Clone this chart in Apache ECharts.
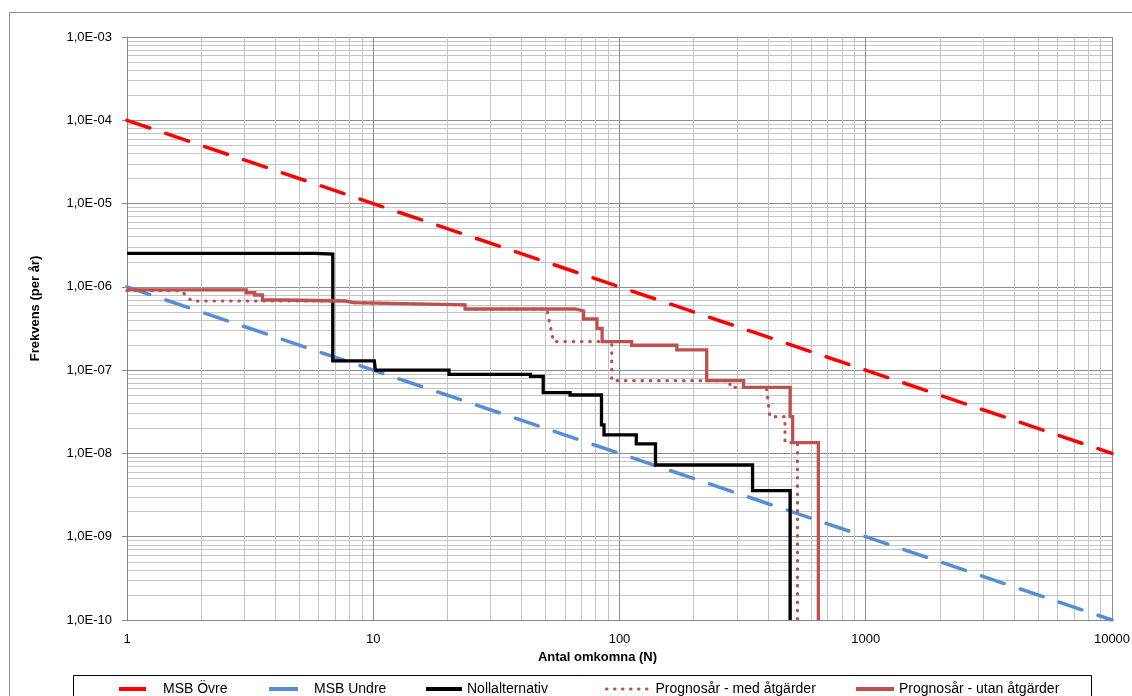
<!DOCTYPE html>
<html>
<head>
    <meta charset="UTF-8">
    <title>F/N-kurva</title>
    <script src="https://cdn.jsdelivr.net/npm/echarts@6/dist/echarts.min.js"></script>
    <style>
        html, body {
            margin: 0;
            padding: 0;
            width: 100%;
            height: 100%;
            background: #fff;
        }
        #chart {
            width: 1132px;
            height: 696px;
        }
    </style>
</head>
<body>
<div id="chart"></div>
<script>
    // MSB riktlinjer (F = C / N)
    var msbXs = [1, 10000];
    var msbOvreYs = [1e-4, 1e-8];
    var msbUndreYs = [1e-6, 1e-10];

    // Nollalternativ (trappstegskurva, avläst)
    var nollXs = [1, 5.8, 5.8, 6.85, 6.85, 10.1, 10.2, 20.3, 20.3, 43.5, 43.5, 49, 49, 63, 63, 84.5, 84.5, 86.5, 86.5, 117, 117, 140, 140, 347, 347, 493, 493];
    var nollYs = [2.53e-6, 2.53e-6, 2.47e-6, 2.47e-6, 1.29e-7, 1.29e-7, 1.0e-7, 1.0e-7, 8.9e-8, 8.9e-8, 8.4e-8, 8.4e-8, 5.37e-8, 5.37e-8, 5.03e-8, 5.03e-8, 2.2e-8, 2.2e-8, 1.67e-8, 1.67e-8, 1.3e-8, 1.3e-8, 7.26e-9, 7.26e-9, 3.57e-9, 3.57e-9, 1e-10];

    // Prognosår - med åtgärder
    var medXs = [1, 1.66, 1.83, 7.7, 7.7, 8.3, 8.3, 13.1, 13.1, 23.6, 23.6, 50.7, 53.9, 93, 93, 281, 281, 395, 408, 470, 470, 528, 528];
    var medYs = [9.0e-7, 9.0e-7, 6.76e-7, 6.76e-7, 6.46e-7, 6.46e-7, 6.28e-7, 6.28e-7, 6.06e-7, 6.06e-7, 5.42e-7, 5.42e-7, 2.2e-7, 2.2e-7, 7.47e-8, 7.47e-8, 6.22e-8, 6.22e-8, 2.76e-8, 2.76e-8, 1.35e-8, 1.35e-8, 1e-10];

    // Prognosår - utan åtgärder
    var utanXs = [1, 3.05, 3.05, 3.3, 3.3, 3.55, 3.55, 4.27, 4.27, 7.7, 7.7, 8.3, 8.3, 13.1, 13.1, 23.6, 23.6, 66, 66, 71.5, 71.5, 81, 81, 85, 85, 112, 112, 171, 171, 226, 226, 319, 319, 493, 493, 505, 505, 642, 642];
    var utanYs = [9.2e-7, 9.2e-7, 8.5e-7, 8.5e-7, 7.98e-7, 7.98e-7, 6.95e-7, 6.95e-7, 6.76e-7, 6.76e-7, 6.46e-7, 6.46e-7, 6.28e-7, 6.28e-7, 6.06e-7, 6.06e-7, 5.42e-7, 5.42e-7, 5.13e-7, 5.13e-7, 4.11e-7, 4.11e-7, 3.18e-7, 3.18e-7, 2.2e-7, 2.2e-7, 1.99e-7, 1.99e-7, 1.75e-7, 1.75e-7, 7.47e-8, 7.47e-8, 6.22e-8, 6.22e-8, 2.76e-8, 2.76e-8, 1.35e-8, 1.35e-8, 1e-10];

    var seriesNames = ['MSB Övre', 'MSB Undre', 'Nollalternativ', 'Prognosår - med åtgärder', 'Prognosår - utan åtgärder'];

    function pairs(xs, ys) {
        return xs.map(function (x, i) { return [x, ys[i]]; });
    }

    var font = 'Liberation Sans';
    var chart = echarts.init(document.getElementById('chart'), null, { renderer: 'canvas' });

    // en legend per post, så att positionerna matchar Excel-rutan
    var legendSpec = [
        { name: seriesNames[0], left: 117, w: 27, gap: 12, dash: 'solid' },
        { name: seriesNames[1], left: 267, w: 29, gap: 11, dash: 'solid' },
        { name: seriesNames[2], left: 424, w: 36, gap: 0, dash: 'solid' },
        { name: seriesNames[3], left: 605, w: 44, gap: 0, dash: [0.5, 7.5] },
        { name: seriesNames[4], left: 854, w: 38, gap: 0, dash: 'solid' }
    ];

    var option = {
        animation: false,
        backgroundColor: '#fff',
        textStyle: { fontFamily: font },
        graphic: [
            {
                type: 'rect', silent: true, z: -10,
                shape: { x: 9.5, y: 12.5, width: 1200, height: 800 },
                style: { fill: 'none', stroke: '#8c8c8c', lineWidth: 1 }
            },
            {
                type: 'rect', silent: true, z: -10,
                shape: { x: 73.5, y: 675.5, width: 1018, height: 40 },
                style: { fill: 'none', stroke: '#000', lineWidth: 1 }
            }
        ],
        legend: legendSpec.map(function (l) {
            return {
                data: [l.name],
                left: l.left,
                top: 682,
                itemWidth: l.w,
                itemHeight: 14,
                padding: 0,
                itemStyle: { opacity: 0 },
                lineStyle: { width: l.dash === 'solid' ? 4 : 3, type: l.dash, cap: l.dash === 'solid' ? 'butt' : 'round' },
                textStyle: {
                    fontFamily: font,
                    fontSize: 14,
                    color: '#000',
                    padding: [0, 0, 0, l.gap]
                }
            };
        }),
        grid: {
            left: 127,
            right: 20,
            top: 37,
            bottom: 76,
            outerBoundsMode: 'none'
        },
        xAxis: {
            type: 'log',
            logBase: 10,
            min: 1,
            max: 10000,
            name: 'Antal omkomna (N)',
            nameLocation: 'middle',
            nameGap: 31,
            nameTextStyle: {
                fontFamily: font,
                fontSize: 13,
                fontWeight: 'bold',
                color: '#000',
                padding: [0, 44, 0, 0]
            },
            axisLine: { lineStyle: { color: '#868686', width: 1 } },
            axisTick: { show: false },
            axisLabel: {
                margin: 13,
                fontSize: 13,
                color: '#000',
                formatter: function (v) { return String(Math.round(v)); }
            },
            splitLine: { show: true, lineStyle: { color: '#8c8c8c', width: 1 } },
            minorTick: { show: false, splitNumber: 9 },
            minorSplitLine: { show: true, lineStyle: { color: '#c4c4c4', width: 1 } }
        },
        yAxis: {
            type: 'log',
            logBase: 10,
            min: 1e-10,
            max: 1e-3,
            name: 'Frekvens (per år)',
            nameLocation: 'middle',
            nameGap: 85,
            nameTextStyle: {
                fontFamily: font,
                fontSize: 13,
                fontWeight: 'bold',
                color: '#000',
                padding: [0, 0, 0, 40]
            },
            axisLine: { show: true, lineStyle: { color: '#868686', width: 1 } },
            axisTick: { show: true, length: 5, lineStyle: { color: '#868686' } },
            axisLabel: {
                margin: 15,
                fontSize: 13,
                color: '#000',
                formatter: function (v) {
                    var e = Math.round(Math.log10(v));
                    var s = Math.abs(e);
                    return '1,0E' + (e < 0 ? '-' : '+') + (s < 10 ? '0' + s : s);
                }
            },
            splitLine: { show: true, lineStyle: { color: '#8c8c8c', width: 1 } },
            minorTick: { show: false, splitNumber: 9 },
            minorSplitLine: { show: true, lineStyle: { color: '#c4c4c4', width: 1 } }
        },
        series: [
            {
                name: seriesNames[0],
                type: 'line',
                symbol: 'none',
                color: '#ff0000',
                lineStyle: { color: '#ff0000', width: 3.5, type: [24, 17], cap: 'round' },
                data: pairs(msbXs, msbOvreYs)
            },
            {
                name: seriesNames[1],
                type: 'line',
                symbol: 'none',
                color: '#558ed5',
                lineStyle: { color: '#558ed5', width: 3.5, type: [24, 17], cap: 'round' },
                data: pairs(msbXs, msbUndreYs)
            },
            {
                name: seriesNames[2],
                type: 'line',
                symbol: 'none',
                color: '#000',
                lineStyle: { color: '#000', width: 3.3, join: 'miter' },
                data: pairs(nollXs, nollYs)
            },
            {
                name: seriesNames[3],
                type: 'line',
                symbol: 'none',
                color: '#b9504c',
                lineStyle: { color: '#b9504c', width: 3.2, type: [0.5, 7.8], cap: 'round' },
                data: pairs(medXs, medYs)
            },
            {
                name: seriesNames[4],
                type: 'line',
                symbol: 'none',
                color: '#c0504d',
                lineStyle: { color: '#c0504d', width: 3.3, join: 'miter' },
                data: pairs(utanXs, utanYs)
            }
        ]
    };

    chart.setOption(option);
</script>
</body>
</html>
